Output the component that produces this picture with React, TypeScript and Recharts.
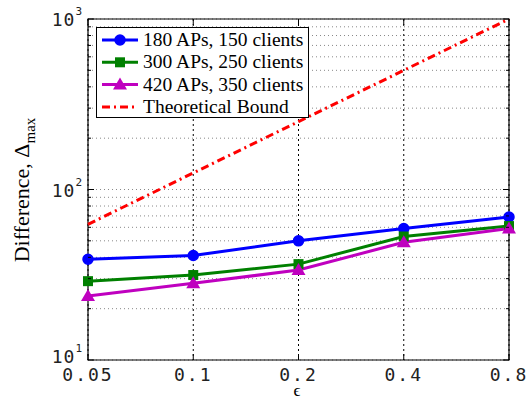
import { LineChart, Line, XAxis, YAxis, CartesianGrid, ReferenceArea } from "recharts";

const epsilons = ["0.05", "0.1", "0.2", "0.4", "0.8"];
const aps180 = [39, 41, 50, 59, 69];
const aps300 = [29, 31.5, 36.5, 53, 61];
const aps420 = [23.7, 28.2, 33.7, 49, 59];
const bound = [62.5, 125, 250, 500, 1000];
const yTicks = [10, 20, 30, 40, 50, 60, 70, 80, 90, 100, 200, 300, 400, 500, 600, 700, 800, 900, 1000];

const series = [
  { key: "a", name: "180 APs, 150 clients", color: "#0000ff", marker: "circle" },
  { key: "b", name: "300 APs, 250 clients", color: "#008000", marker: "square" },
  { key: "c", name: "420 APs, 350 clients", color: "#bf00bf", marker: "triangle" },
  { key: "d", name: "Theoretical Bound", color: "#ff0000", marker: "none" },
];

const data = epsilons.map((e, i) => ({
  eps: e, a: aps180[i], b: aps300[i], c: aps420[i], d: bound[i],
}));

const mono = "DejaVu Sans Mono";
const serif = "Liberation Serif";

function Marker({ type, cx, cy, color }: any) {
  if (type === "circle") return <circle cx={cx} cy={cy} r={5} fill={color} stroke={color} strokeWidth={1.5} />;
  if (type === "square") return <rect x={cx - 5} y={cy - 5} width={10} height={10} fill={color} />;
  if (type === "triangle")
    return <polygon points={`${cx},${cy - 7} ${cx - 7},${cy + 5} ${cx + 7},${cy + 5}`} fill={color} />;
  return null;
}

const dot = (type: string, color: string) => (p: any) =>
  <Marker key={p.index} type={type} cx={p.cx} cy={p.cy} color={color} />;

const YTick = ({ x, y, payload }: any) => {
  const v = payload.value;
  const major = v === 10 || v === 100 || v === 1000;
  const edge = x + 5;
  const len = major ? 6 : 3;
  return (
    <g>
      <line x1={edge} x2={edge + len} y1={y} y2={y} stroke="#000" />
      <line x1={509} x2={509 - len} y1={y} y2={y} stroke="#000" />
      {major && (
        <text transform={`translate(${x},${v === 10 ? y + 3 : y + 7})`} textAnchor="end" fontFamily={mono}
          fontSize={18} letterSpacing={1} fill="#222">
          <tspan>10</tspan>
          <tspan dy={-11} fontSize={11}>{Math.round(Math.log10(v))}</tspan>
        </text>
      )}
    </g>
  );
};

const XTick = ({ x, payload }: any) => (
  <g>
    <line x1={x} x2={x} y1={360} y2={354} stroke="#000" />
    <line x1={x} x2={x} y1={19} y2={25} stroke="#000" />
    <text transform={`translate(${x},381)`} textAnchor="middle" fontFamily={mono} fontSize={18}
      letterSpacing={2} fill="#222">
      {payload.value}
    </text>
  </g>
);

const YLabel = () => (
  <text transform="translate(29,190) rotate(-90)" textAnchor="middle" fontFamily={serif} fontSize={22} fill="#000">
    <tspan>Difference, Δ</tspan>
    <tspan dy={6} fontSize={15}>max</tspan>
  </text>
);

const XLabel = () => (
  <text transform="translate(297,396)" textAnchor="middle" fontFamily={serif} fontSize={17} fill="#000">ϵ</text>
);

const LegendBox = () => (
  <svg width={213} height={91} style={{ display: "block" }}>
    <rect x={0.5} y={0.5} width={212} height={90} fill="#fff" stroke="#000" />
    {series.map((s, i) => {
      const cy = 13 + i * 22.3;
      return (
        <g key={s.key}>
          <line x1={6} x2={42} y1={cy} y2={cy} stroke={s.color} strokeWidth={3}
            strokeDasharray={s.marker === "none" ? "8 4 2 4" : undefined} />
          <Marker type={s.marker} cx={24} cy={cy} color={s.color} />
          <text x={47} y={cy + 6} fontFamily={serif} fontSize={19.5} fill="#000">{s.name}</text>
        </g>
      );
    })}
  </svg>
);

export default function App() {
  return (
    <div style={{ position: "fixed", left: 0, top: 0, width: 528, height: 401, background: "#fff" }}>
      <LineChart width={528} height={401} data={data} margin={{ top: 19, right: 19, left: 0, bottom: 0 }}>
        <CartesianGrid vertical={false} stroke="#888" strokeDasharray="1 3" />
        <CartesianGrid horizontal={false} stroke="#000" strokeDasharray="2 3" />
        <XAxis dataKey="eps" height={41} axisLine={false} tickLine={false} tick={<XTick />} interval={0}
          label={<XLabel />} />
        <YAxis scale="log" domain={[10, 1000]} ticks={yTicks} allowDataOverflow width={88}
          axisLine={false} tickLine={false} tickSize={0} tickMargin={5} tick={<YTick />} interval={0}
          label={<YLabel />} />
        <ReferenceArea x1="0.05" x2="0.8" y1={10} y2={1000} fill="none" stroke="#000" strokeWidth={1.2}
          ifOverflow="visible" />
        <Line dataKey="d" name="Theoretical Bound" stroke="#ff0000" strokeWidth={3} strokeDasharray="8 4 2 4"
          dot={false} isAnimationActive={false} />
        <Line dataKey="a" name="180 APs, 150 clients" stroke="#0000ff" strokeWidth={3}
          dot={dot("circle", "#0000ff")} isAnimationActive={false} />
        <Line dataKey="b" name="300 APs, 250 clients" stroke="#008000" strokeWidth={3}
          dot={dot("square", "#008000")} isAnimationActive={false} />
        <Line dataKey="c" name="420 APs, 350 clients" stroke="#bf00bf" strokeWidth={3}
          dot={dot("triangle", "#bf00bf")} isAnimationActive={false} />
      </LineChart>
      <div style={{ position: "absolute", left: 96, top: 27 }}>
        <LegendBox />
      </div>
    </div>
  );
}
